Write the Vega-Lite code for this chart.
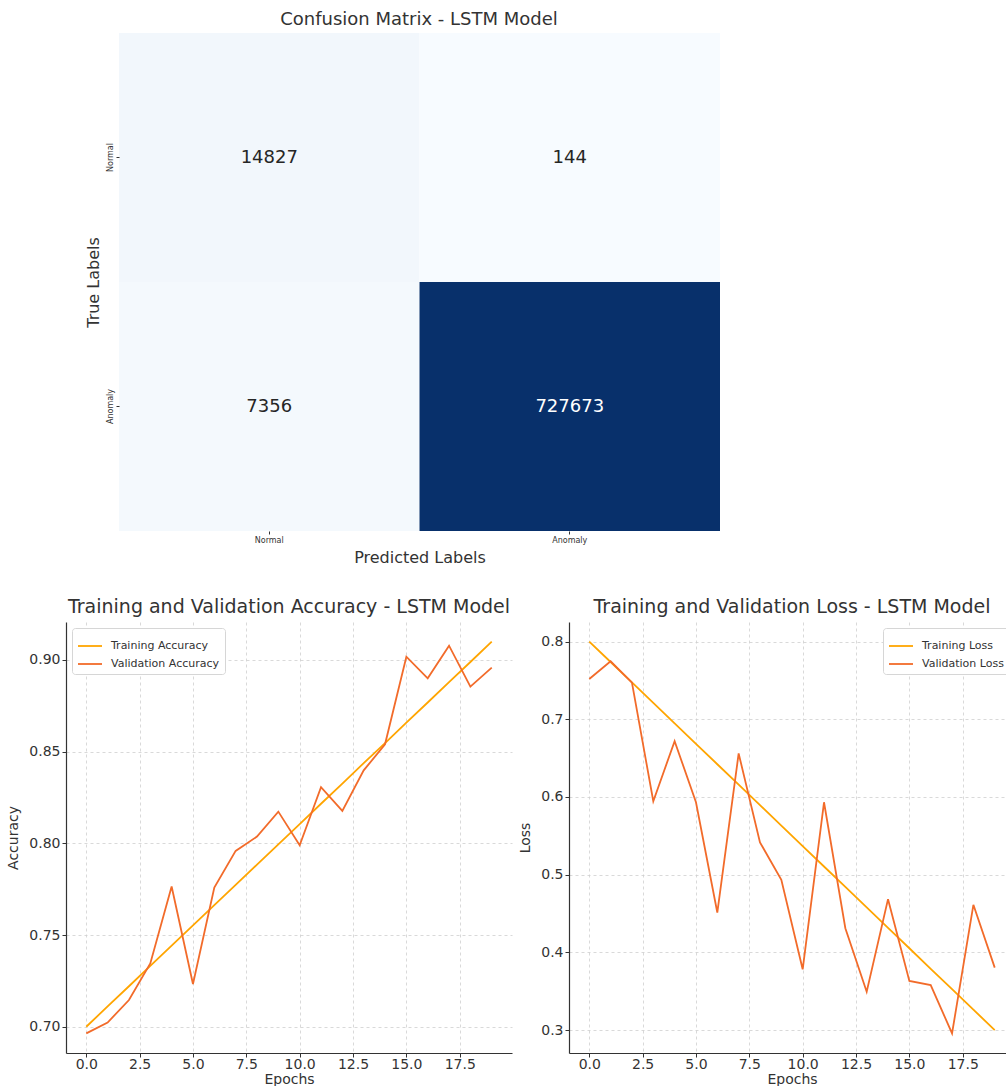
{
 "$schema": "https://vega.github.io/schema/vega-lite/v6.json",
 "padding": {"left": 6, "top": 11, "right": 0, "bottom": 0},
 "background": "white",
 "config": {
  "font": "DejaVu Sans",
  "view": {"stroke": null},
  "axis": {"labelFont": "DejaVu Sans", "titleFont": "DejaVu Sans", "labelColor": "#333", "titleColor": "#333", "titleFontWeight": "normal", "domainColor": "#333", "tickColor": "#333", "labelFontSize": 14, "titleFontSize": 14, "tickSize": 4, "labelPadding": 2, "domainWidth": 1.2, "titlePadding": 8, "gridDash": [3, 3], "gridColor": "#cfcfcf", "gridWidth": 0.8},
  "title": {"font": "DejaVu Sans", "fontWeight": "normal", "color": "#333"},
  "legend": {"labelFont": "DejaVu Sans", "labelColor": "#333", "labelFontSize": 11, "fillColor": "white", "strokeColor": "#d6d6d6", "cornerRadius": 3, "padding": 5, "symbolType": "stroke", "symbolSize": 576, "symbolStrokeWidth": 1.8, "rowPadding": -6, "labelOffset": 8, "offset": 6}
 },
 "datasets": {
  "cm": [
   {"True": "Normal", "Pred": "Normal", "count": 14827},
   {"True": "Normal", "Pred": "Anomaly", "count": 144},
   {"True": "Anomaly", "Pred": "Normal", "count": 7356},
   {"True": "Anomaly", "Pred": "Anomaly", "count": 727673}
  ],
  "acc": [
   {"Epoch": 0, "Series": "Training Accuracy", "Value": 0.7},
   {"Epoch": 1, "Series": "Training Accuracy", "Value": 0.7111},
   {"Epoch": 2, "Series": "Training Accuracy", "Value": 0.7221},
   {"Epoch": 3, "Series": "Training Accuracy", "Value": 0.7332},
   {"Epoch": 4, "Series": "Training Accuracy", "Value": 0.7442},
   {"Epoch": 5, "Series": "Training Accuracy", "Value": 0.7553},
   {"Epoch": 6, "Series": "Training Accuracy", "Value": 0.7663},
   {"Epoch": 7, "Series": "Training Accuracy", "Value": 0.7774},
   {"Epoch": 8, "Series": "Training Accuracy", "Value": 0.7884},
   {"Epoch": 9, "Series": "Training Accuracy", "Value": 0.7995},
   {"Epoch": 10, "Series": "Training Accuracy", "Value": 0.8105},
   {"Epoch": 11, "Series": "Training Accuracy", "Value": 0.8216},
   {"Epoch": 12, "Series": "Training Accuracy", "Value": 0.8326},
   {"Epoch": 13, "Series": "Training Accuracy", "Value": 0.8437},
   {"Epoch": 14, "Series": "Training Accuracy", "Value": 0.8547},
   {"Epoch": 15, "Series": "Training Accuracy", "Value": 0.8658},
   {"Epoch": 16, "Series": "Training Accuracy", "Value": 0.8768},
   {"Epoch": 17, "Series": "Training Accuracy", "Value": 0.8879},
   {"Epoch": 18, "Series": "Training Accuracy", "Value": 0.8989},
   {"Epoch": 19, "Series": "Training Accuracy", "Value": 0.91},
   {"Epoch": 0, "Series": "Validation Accuracy", "Value": 0.6964},
   {"Epoch": 1, "Series": "Validation Accuracy", "Value": 0.7023},
   {"Epoch": 2, "Series": "Validation Accuracy", "Value": 0.7146},
   {"Epoch": 3, "Series": "Validation Accuracy", "Value": 0.7345},
   {"Epoch": 4, "Series": "Validation Accuracy", "Value": 0.7765},
   {"Epoch": 5, "Series": "Validation Accuracy", "Value": 0.7233},
   {"Epoch": 6, "Series": "Validation Accuracy", "Value": 0.7759},
   {"Epoch": 7, "Series": "Validation Accuracy", "Value": 0.7959},
   {"Epoch": 8, "Series": "Validation Accuracy", "Value": 0.8037},
   {"Epoch": 9, "Series": "Validation Accuracy", "Value": 0.8173},
   {"Epoch": 10, "Series": "Validation Accuracy", "Value": 0.799},
   {"Epoch": 11, "Series": "Validation Accuracy", "Value": 0.8306},
   {"Epoch": 12, "Series": "Validation Accuracy", "Value": 0.8177},
   {"Epoch": 13, "Series": "Validation Accuracy", "Value": 0.8398},
   {"Epoch": 14, "Series": "Validation Accuracy", "Value": 0.854},
   {"Epoch": 15, "Series": "Validation Accuracy", "Value": 0.9018},
   {"Epoch": 16, "Series": "Validation Accuracy", "Value": 0.89},
   {"Epoch": 17, "Series": "Validation Accuracy", "Value": 0.9078},
   {"Epoch": 18, "Series": "Validation Accuracy", "Value": 0.8855},
   {"Epoch": 19, "Series": "Validation Accuracy", "Value": 0.8958}
  ],
  "loss": [
   {"Epoch": 0, "Series": "Training Loss", "Value": 0.8},
   {"Epoch": 1, "Series": "Training Loss", "Value": 0.7737},
   {"Epoch": 2, "Series": "Training Loss", "Value": 0.7474},
   {"Epoch": 3, "Series": "Training Loss", "Value": 0.7211},
   {"Epoch": 4, "Series": "Training Loss", "Value": 0.6947},
   {"Epoch": 5, "Series": "Training Loss", "Value": 0.6684},
   {"Epoch": 6, "Series": "Training Loss", "Value": 0.6421},
   {"Epoch": 7, "Series": "Training Loss", "Value": 0.6158},
   {"Epoch": 8, "Series": "Training Loss", "Value": 0.5895},
   {"Epoch": 9, "Series": "Training Loss", "Value": 0.5632},
   {"Epoch": 10, "Series": "Training Loss", "Value": 0.5368},
   {"Epoch": 11, "Series": "Training Loss", "Value": 0.5105},
   {"Epoch": 12, "Series": "Training Loss", "Value": 0.4842},
   {"Epoch": 13, "Series": "Training Loss", "Value": 0.4579},
   {"Epoch": 14, "Series": "Training Loss", "Value": 0.4316},
   {"Epoch": 15, "Series": "Training Loss", "Value": 0.4053},
   {"Epoch": 16, "Series": "Training Loss", "Value": 0.3789},
   {"Epoch": 17, "Series": "Training Loss", "Value": 0.3526},
   {"Epoch": 18, "Series": "Training Loss", "Value": 0.3263},
   {"Epoch": 19, "Series": "Training Loss", "Value": 0.3},
   {"Epoch": 0, "Series": "Validation Loss", "Value": 0.7518},
   {"Epoch": 1, "Series": "Validation Loss", "Value": 0.7746},
   {"Epoch": 2, "Series": "Validation Loss", "Value": 0.7471},
   {"Epoch": 3, "Series": "Validation Loss", "Value": 0.5945},
   {"Epoch": 4, "Series": "Validation Loss", "Value": 0.6719},
   {"Epoch": 5, "Series": "Validation Loss", "Value": 0.5932},
   {"Epoch": 6, "Series": "Validation Loss", "Value": 0.4513},
   {"Epoch": 7, "Series": "Validation Loss", "Value": 0.656},
   {"Epoch": 8, "Series": "Validation Loss", "Value": 0.5416},
   {"Epoch": 9, "Series": "Validation Loss", "Value": 0.4935},
   {"Epoch": 10, "Series": "Validation Loss", "Value": 0.3782},
   {"Epoch": 11, "Series": "Validation Loss", "Value": 0.5932},
   {"Epoch": 12, "Series": "Validation Loss", "Value": 0.4311},
   {"Epoch": 13, "Series": "Validation Loss", "Value": 0.3494},
   {"Epoch": 14, "Series": "Validation Loss", "Value": 0.4685},
   {"Epoch": 15, "Series": "Validation Loss", "Value": 0.3632},
   {"Epoch": 16, "Series": "Validation Loss", "Value": 0.358},
   {"Epoch": 17, "Series": "Validation Loss", "Value": 0.2957},
   {"Epoch": 18, "Series": "Validation Loss", "Value": 0.4612},
   {"Epoch": 19, "Series": "Validation Loss", "Value": 0.3804}
  ]
 },
 "spacing": 33,
 "resolve": {"scale": {"color": "independent"}, "legend": {"color": "independent"}},
 "vconcat": [
  {
   "width": 654,
   "height": 498,
   "title": {"text": "Confusion Matrix - LSTM Model", "fontSize": 18, "dx": 26, "offset": 4},
   "data": {"name": "cm"},
   "encoding": {
    "x": {"field": "Pred", "type": "nominal", "sort": ["Normal", "Anomaly"], "scale": {"range": [53, 654], "paddingInner": 0, "paddingOuter": 0}, "axis": {"title": "Predicted Labels", "labelAngle": 0, "labelFontSize": 8, "tickSize": 3, "labelPadding": 2, "domain": false, "grid": false, "titleFontSize": 16, "titlePadding": 5}},
    "y": {"field": "True", "type": "nominal", "sort": ["Normal", "Anomaly"], "scale": {"paddingInner": 0, "paddingOuter": 0}, "axis": {"title": "True Labels", "labelAngle": 270, "labelFontSize": 8, "tickSize": 3, "labelPadding": 2, "offset": -53, "domain": false, "grid": false, "titleFontSize": 16, "titlePadding": 5}}
   },
   "layer": [
    {"mark": {"type": "rect"}, "encoding": {"color": {"field": "count", "type": "quantitative", "scale": {"domain": [144, 727673], "range": ["#f7fbff", "#08306b"]}, "legend": null}}},
    {"mark": {"type": "text", "fontSize": 18, "font": "DejaVu Sans"}, "encoding": {"text": {"field": "count", "type": "quantitative", "format": "d"}, "color": {"condition": {"test": "datum.count > 300000", "value": "white"}, "value": "#262626"}}}
   ]
  },
  {
   "spacing": 6,
   "resolve": {"scale": {"color": "independent"}, "legend": {"color": "independent"}},
   "hconcat": [
    {
     "width": 446,
     "height": 431,
     "title": {"text": "Training and Validation Accuracy - LSTM Model", "fontSize": 19, "offset": 5},
     "data": {"name": "acc"},
     "mark": {"type": "line", "strokeWidth": 1.8},
     "encoding": {
      "x": {"field": "Epoch", "type": "quantitative", "scale": {"domain": [-0.95, 19.95], "nice": false, "zero": false}, "axis": {"title": "Epochs", "values": [0, 2.5, 5, 7.5, 10, 12.5, 15, 17.5], "format": ".1f", "labelPadding": 0, "titlePadding": 1}},
      "y": {"field": "Value", "type": "quantitative", "scale": {"domain": [0.6857, 0.9207], "nice": false, "zero": false}, "axis": {"title": "Accuracy", "values": [0.7, 0.75, 0.8, 0.85, 0.9], "format": ".2f"}},
      "color": {"field": "Series", "type": "nominal", "scale": {"domain": ["Training Accuracy", "Validation Accuracy"], "range": ["#FFA500", "#F26B2A"]}, "legend": {"title": null, "orient": "top-left"}}
     }
    },
    {
     "width": 446,
     "height": 431,
     "title": {"text": "Training and Validation Loss - LSTM Model", "fontSize": 19, "offset": 5},
     "data": {"name": "loss"},
     "mark": {"type": "line", "strokeWidth": 1.8},
     "encoding": {
      "x": {"field": "Epoch", "type": "quantitative", "scale": {"domain": [-0.95, 19.95], "nice": false, "zero": false}, "axis": {"title": "Epochs", "values": [0, 2.5, 5, 7.5, 10, 12.5, 15, 17.5], "format": ".1f", "labelPadding": 0, "titlePadding": 1}},
      "y": {"field": "Value", "type": "quantitative", "scale": {"domain": [0.2705, 0.8252], "nice": false, "zero": false}, "axis": {"title": "Loss", "values": [0.3, 0.4, 0.5, 0.6, 0.7, 0.8], "format": ".1f"}},
      "color": {"field": "Series", "type": "nominal", "scale": {"domain": ["Training Loss", "Validation Loss"], "range": ["#FFA500", "#F26B2A"]}, "legend": {"title": null, "orient": "top-right"}}
     }
    }
   ]
  }
 ]
}
